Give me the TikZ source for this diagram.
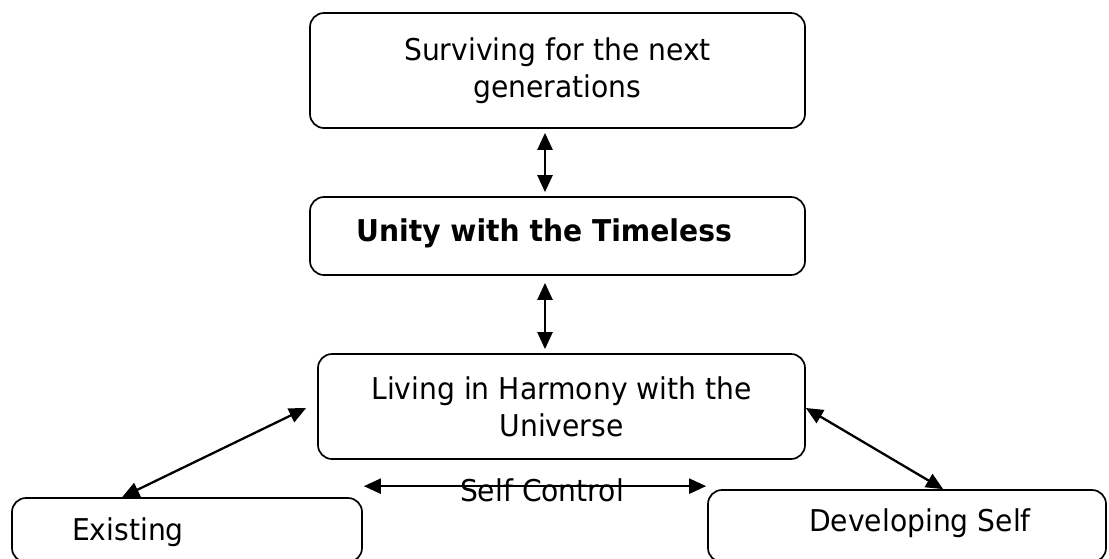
\documentclass[tikz,border=0pt]{standalone}
\usepackage{fontspec}
\setmainfont{DejaVu Sans}[FakeStretch=0.94]
\usetikzlibrary{arrows.meta,calc}
\begin{document}
\begin{tikzpicture}[x=1pt,y=-1pt,
  box/.style={draw=black, line width=1.7pt, rounded corners=14pt, inner sep=0pt, align=center,
              font=\fontsize{30}{37}\selectfont},
  txt/.style={font=\fontsize{30}{37}\selectfont, align=center, inner sep=0pt},
  btxt/.style={font=\fontsize{30}{37}\selectfont\bfseries, align=center, inner sep=0pt},
  link/.style={line width=2.3pt, {Triangle[length=17pt,width=15pt]}-{Triangle[length=17pt,width=15pt]}}]
\clip (0,0) rectangle (1109,558);
\fill[white] (0,0) rectangle (1109,558);
% boxes
\node[box, minimum width=495pt, minimum height=115pt] (top) at (557.5,70.5) {Surviving for the next\\generations};
\node[box, minimum width=495pt, minimum height=78pt] (unity) at (557.5,236) {};
\node[btxt] (unitytext) at (544,233) {Unity with the Timeless};
\node[box, minimum width=487pt, minimum height=105pt] (liv) at (561.5,406.5) {Living in Harmony with the\\Universe};
\node[box, minimum width=350pt, minimum height=64pt] (ex) at (187,530) {};
\node[txt] (extext) at (128,532) {Existing};
\node[box, minimum width=398pt, minimum height=72pt] (dev) at (907,526) {};
\node[txt] (devtext) at (920,523) {Developing Self};
% connectors
\draw[link] ($(top.south)+(-12.5,4)$) -- ($(unity.north)+(-12.5,-4)$);
\draw[link] ($(unity.south)+(-12.5,7)$) -- ($(liv.north)+(-16.5,-4)$);
\draw[link] ($(ex.north west)+(111,0)$) -- ($(liv.west)+(-11,1.5)$);
\draw[link] ($(liv.east)+(0,1.5)$) -- ($(dev.north west)+(236,0)$);
\draw[link] ($(ex.north east)+(1,-11)$) -- ($(dev.north west)+(-1,-3)$);
\node[txt] (sctext) at (542,490) {Self Control};
\end{tikzpicture}
\end{document}
